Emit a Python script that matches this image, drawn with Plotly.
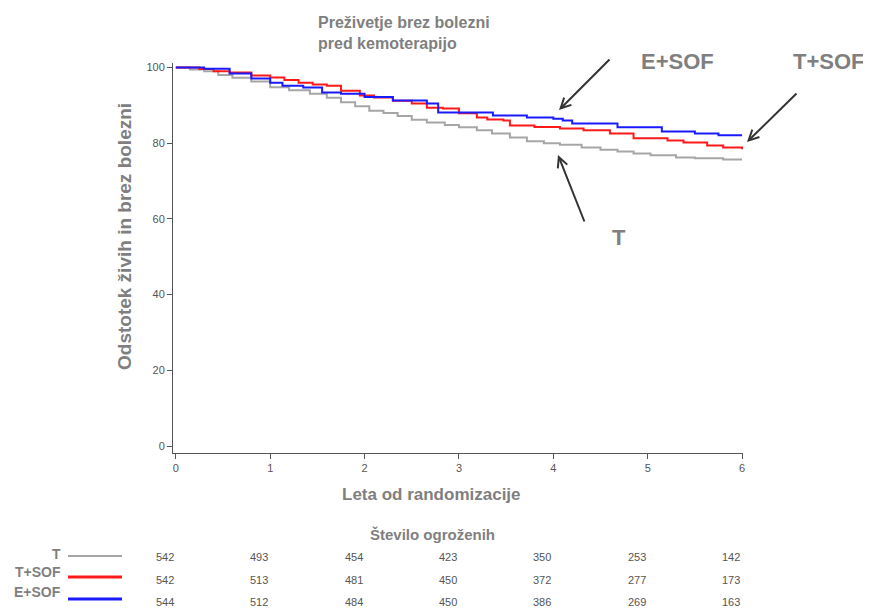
import plotly.graph_objects as go

# ---- data ----
t_T = [0, 0.15, 0.3, 0.45, 0.6, 0.8, 1.0, 1.2, 1.42, 1.6, 1.75, 1.9, 2.05, 2.2, 2.35, 2.5, 2.66, 2.85,
       3.0, 3.19, 3.35, 3.54, 3.72, 3.9, 4.07, 4.3, 4.5, 4.68, 4.85, 5.03, 5.3, 5.5, 5.8, 6.0]
s_T = [100, 99.5, 99, 98, 97.3, 96.3, 94.8, 94.0, 93.1, 92, 90.8, 89.8, 88.6, 88.0, 87.2, 86.2, 85.5, 84.8,
       84.2, 83.4, 82.6, 81.5, 80.5, 80.0, 79.6, 78.9, 78.3, 77.8, 77.3, 76.8, 76.2, 76.0, 75.7, 75.7]

t_TSOF = [0, 0.25, 0.4, 0.57, 0.8, 1.0, 1.15, 1.3, 1.45, 1.6, 1.75, 1.95, 2.1, 2.3, 2.5, 2.66, 2.83,
          3.0, 3.19, 3.3, 3.47, 3.54, 3.8, 4.07, 4.32, 4.6, 4.85, 5.21, 5.38, 5.63, 5.8, 6.0]
s_TSOF = [100, 99.6, 99.0, 98.7, 97.9, 97.4, 96.7, 96.0, 95.5, 95.2, 93.9, 92.6, 92.1, 91.2, 90.5, 89.4, 89.2,
          87.9, 86.8, 86.3, 86.0, 84.7, 84.3, 83.9, 83.4, 82.6, 81.3, 80.7, 80.2, 79.4, 78.9, 78.4]

t_ESOF = [0, 0.3, 0.57, 0.8, 1.0, 1.13, 1.35, 1.55, 1.75, 2.0, 2.3, 2.66, 2.78, 3.36, 3.72, 4.0, 4.1,
          4.2, 4.68, 5.15, 5.5, 5.75, 6.0]
s_ESOF = [100, 99.7, 98.4, 97.1, 96.0, 95.2, 94.7, 93.4, 93.1, 92.2, 91.3, 90.5, 88.1, 87.3, 86.8, 86.5, 86.0,
          85.2, 84.2, 83.1, 82.6, 82.1, 82.1]

risk_times = [0, 1, 2, 3, 4, 5, 6]
risk_T = [542, 493, 454, 423, 350, 253, 142]
risk_TSOF = [542, 513, 481, 450, 372, 277, 173]
risk_ESOF = [544, 512, 484, 450, 386, 269, 163]

series_names = ["T", "T+SOF", "E+SOF"]
series_colors = ["#a6a6a6", "#ff1a1a", "#1a1aff"]

W, H = 871, 608
OFF = 8  # page body offset
# screen-pixel positions of the plot frame in the reference
FX0, FX1, FY0, FY1 = 173, 743, 63, 453
ML, MR, MT, MB = FX0 - OFF, W - (FX1 - OFF), FY0 - OFF, H - (FY1 - OFF)
PW, PH = FX1 - FX0, FY1 - FY0


def px_x(px):
    return (px - FX0) / PW


def px_y(py):
    return (FY1 - py) / PH


FONT = "Arial, Liberation Sans, sans-serif"
NARROW = "Liberation Sans Narrow, Arial Narrow, Arial, sans-serif"
TXT = "#7f7f7f"


def lab(x, y, text, size, **kw):
    d = dict(x=px_x(x), y=px_y(y), xref="paper", yref="paper", xanchor="center", yanchor="middle",
             showarrow=False, text=text, font=dict(family=FONT, size=size, color=TXT))
    d.update(kw)
    return d


fig = go.Figure()
for t, s, name, col in zip([t_T, t_TSOF, t_ESOF], [s_T, s_TSOF, s_ESOF], series_names, series_colors):
    fig.add_trace(go.Scatter(x=t, y=s, mode="lines", line=dict(color=col, width=2, shape="hv"),
                             name=name, showlegend=False, hoverinfo="skip"))

ann = []
ann.append(lab(316, 33, "<b>Preživetje brez bolezni<br>pred kemoterapijo</b>", 16,
               xanchor="left", align="left"))
ann.append(lab(124, 237, "<b>Odstotek živih in brez bolezni</b>", 19, textangle=-90))
ann.append(lab(431, 494, "<b>Leta od randomizacije</b>", 17))
ann.append(lab(677, 61, "<b>E+SOF</b>", 22))
ann.append(lab(829, 61, "<b>T+SOF</b>", 22))
ann.append(lab(619, 237, "<b>T</b>", 22))
for (x0, y0, x1, y1) in [(611, 58, 559, 110), (798, 92, 747, 142), (585, 223, 558, 155)]:
    ann.append(dict(x=px_x(x1), y=px_y(y1), ax=x0 - x1, ay=y0 - y1, xref="paper", yref="paper",
                    axref="pixel", ayref="pixel", showarrow=True, arrowhead=5, arrowsize=1,
                    arrowwidth=2, arrowcolor="#333333", text=""))
ann.append(lab(432, 534, "<b>Število ogroženih</b>", 15))

row_y = [557, 580, 602]
label_y = [554, 572, 592]
line_y = [556, 577, 599]
line_w = [2, 3, 3]
for vals, ry, ly, name in zip([risk_T, risk_TSOF, risk_ESOF], row_y, label_y, series_names):
    for tt, v in zip(risk_times, vals):
        ann.append(dict(x=tt, y=px_y(ry), xref="x", yref="paper", xanchor="center", yanchor="middle",
                        xshift=-11, showarrow=False, text=str(v),
                        font=dict(family=NARROW, size=11, color="#555555")))
    ann.append(lab(63, ly, "<b>" + name + "</b>", 14, xanchor="right"))
shapes = []
for lny, col, lw in zip(line_y, series_colors, line_w):
    shapes.append(dict(type="line", xref="paper", yref="paper", x0=px_x(68), x1=px_x(122),
                       y0=px_y(lny), y1=px_y(lny), line=dict(color=col, width=lw)))

axis_common = dict(showgrid=False, zeroline=False, showline=True, linecolor="#555555", linewidth=1,
                   ticks="outside", ticklen=5, tickcolor="#555555",
                   tickfont=dict(family=NARROW, size=11, color="#555555"))
fig.update_layout(
    width=W, height=H, margin=dict(l=ML, r=MR, t=MT, b=MB),
    plot_bgcolor="white", paper_bgcolor="white",
    annotations=ann, shapes=shapes,
    xaxis=dict(range=[-0.03, 6.01], tickvals=[0, 1, 2, 3, 4, 5, 6], **axis_common),
    yaxis=dict(range=[-1.85, 101.2], tickvals=[0, 20, 40, 60, 80, 100], **axis_common),
)
fig.write_html("out.html")
